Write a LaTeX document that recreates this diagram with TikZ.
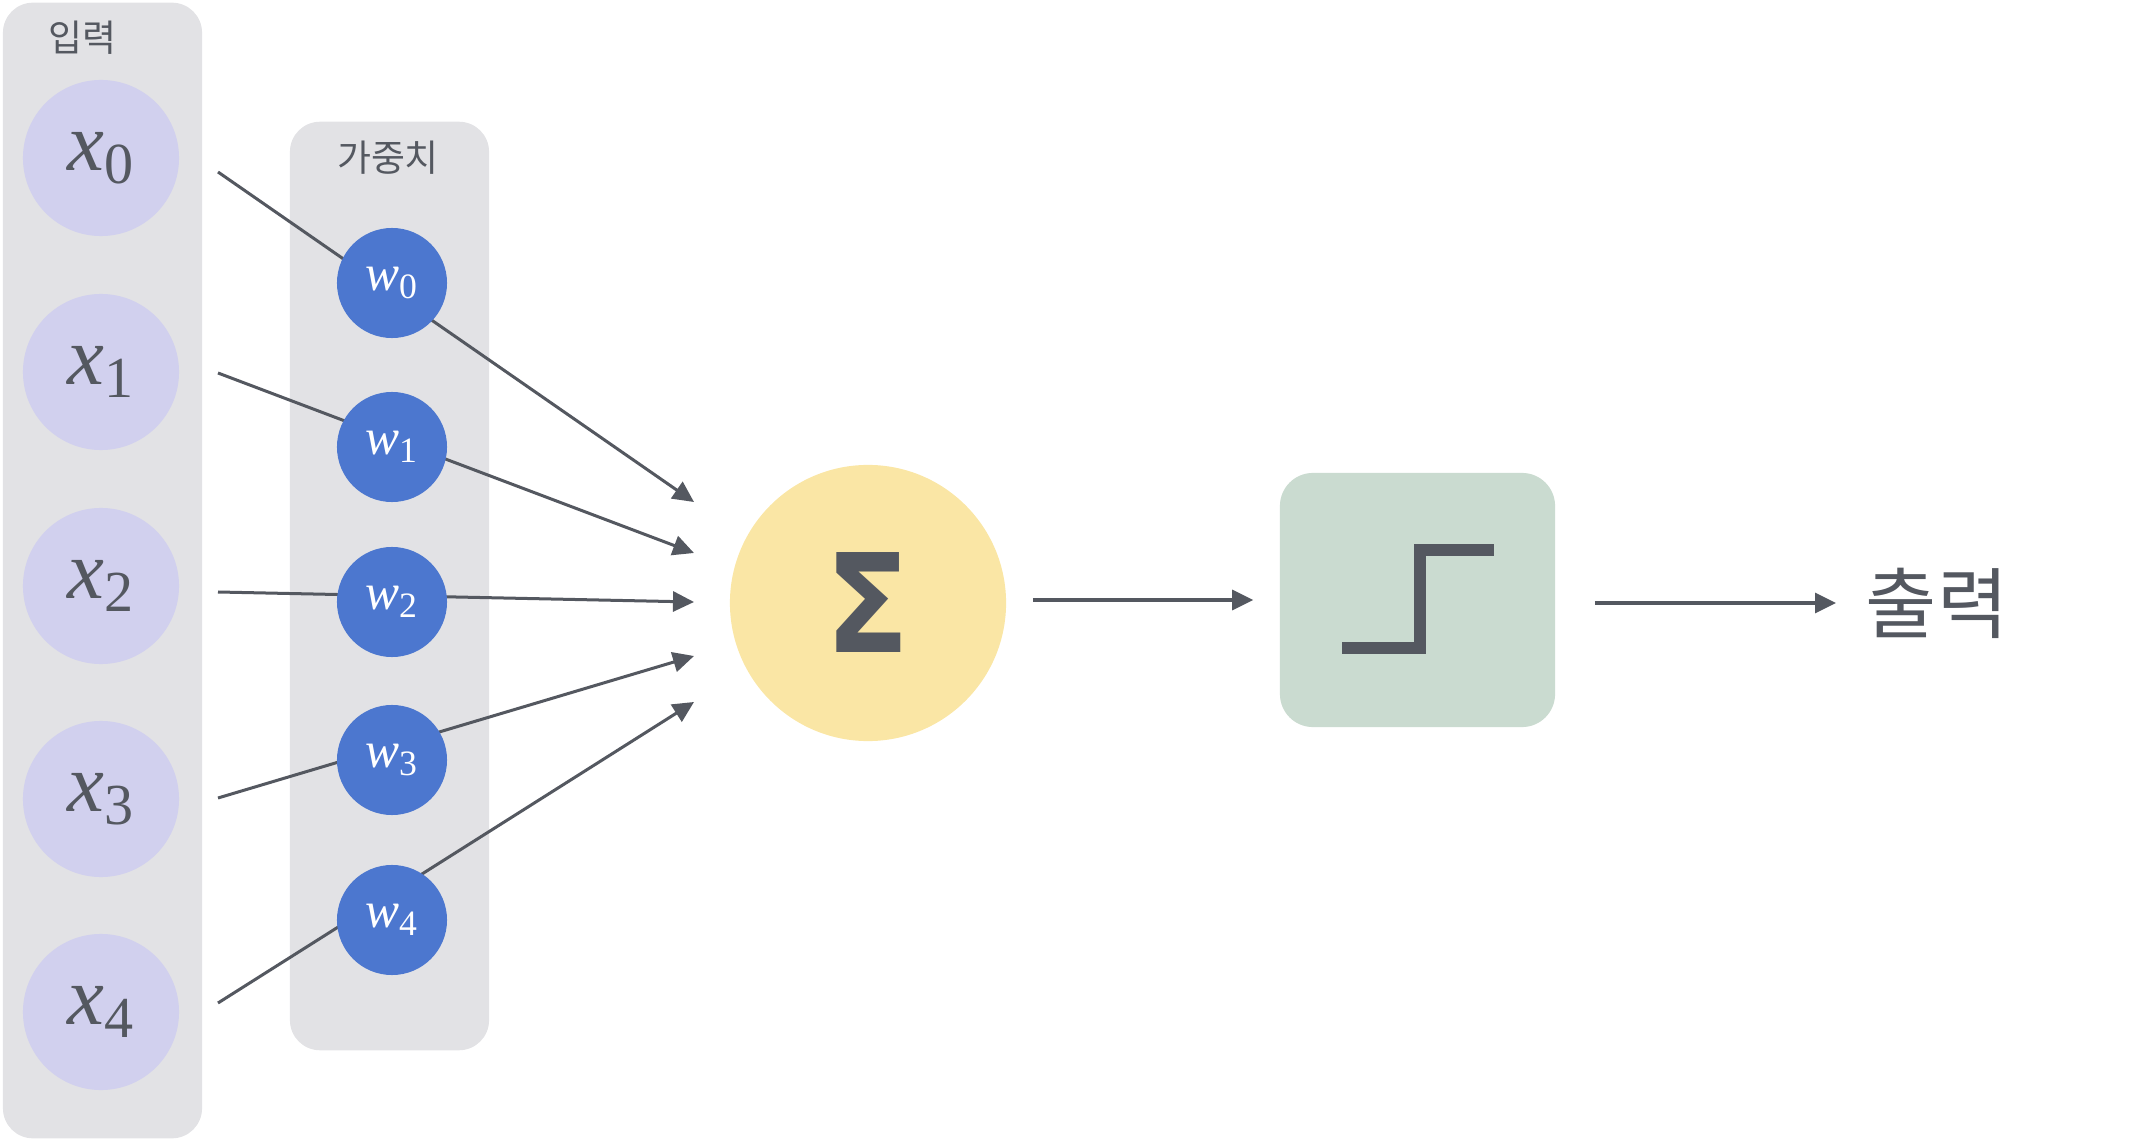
\documentclass[tikz,border=0pt]{standalone}
\usepackage{amstext}
\usepackage{fontspec}
\usepackage{graphicx}
\setmainfont{Liberation Serif}
\newfontfamily\krfont{Noto Sans CJK KR}
\newfontfamily\sigfont{DejaVu Sans}
\usetikzlibrary{arrows.meta}
\definecolor{panelgray}{HTML}{E2E2E5}
\definecolor{inlav}{HTML}{D1D0EE}
\definecolor{wblue}{HTML}{4C77CF}
\definecolor{sumyellow}{HTML}{FAE6A5}
\definecolor{actgreen}{HTML}{CADBD0}
\definecolor{inkgray}{HTML}{545860}
\newcommand{\vsym}[2]{$\textit{#1}_{\textrm{#2}}$}
\begin{document}
\begin{tikzpicture}[x=0.01cm, y=-0.01cm, >={Triangle[length=0.21cm,width=0.2cm]},
          panel/.style={fill=panelgray, rounded corners=0.3cm, minimum width=1.99cm},
          lbl/.style={text=inkgray, font=\krfont\fontsize{10.5}{12}\selectfont},
          innode/.style={circle, fill=inlav, minimum size=1.56cm, text=inkgray, font=\fontsize{23.6}{28}\selectfont},
          wnode/.style={circle, fill=wblue, minimum size=1.10cm, text=white, font=\fontsize{14.5}{17}\selectfont},
          conn/.style={draw=inkgray, line width=0.03cm}]
        \useasboundingbox (0,0) rectangle (2142,1140);
        \node[panel, minimum height=11.35cm] (inbox) at (102.5,570.5) {};
        \node[panel, minimum height=9.28cm] (wbox) at (389.5,586) {};
        \node[lbl] (inlbl) at (82,38) {입력};
        \node[lbl] (wlbl) at (388,158) {가중치};
        \node[innode] (x0) at (101,158) {\vsym{x}{0}};
        \node[innode] (x1) at (101,372) {\vsym{x}{1}};
        \node[innode] (x2) at (101,586) {\vsym{x}{2}};
        \node[innode] (x3) at (101,799) {\vsym{x}{3}};
        \node[innode] (x4) at (101,1012) {\vsym{x}{4}};
        % line ends beside the inputs and in front of the sum
        \coordinate (s0) at (218,172);
        \coordinate (s1) at (218,373);
        \coordinate (s2) at (218,592);
        \coordinate (s3) at (218,798);
        \coordinate (s4) at (218,1003);
        \coordinate (t0) at (694,502);
        \coordinate (t1) at (694,553);
        \coordinate (t2) at (694,602);
        \coordinate (t3) at (694,656);
        \coordinate (t4) at (694,702);
        \draw[conn, ->] (s0) -- (t0);
        \draw[conn, ->] (s1) -- (t1);
        \draw[conn, ->] (s2) -- (t2);
        \draw[conn, ->] (s3) -- (t3);
        \draw[conn, ->] (s4) -- (t4);
        \node[wnode] (w0) at (392,283) {\vsym{w}{0}};
        \node[wnode] (w1) at (392,447) {\vsym{w}{1}};
        \node[wnode] (w2) at (392,602) {\vsym{w}{2}};
        \node[wnode] (w3) at (392,760) {\vsym{w}{3}};
        \node[wnode] (w4) at (392,920) {\vsym{w}{4}};
        \node[circle, fill=sumyellow, minimum size=2.76cm, text=inkgray,
              font=\sigfont\bfseries\fontsize{39}{42}\selectfont] (sum) at (868,603) {\scalebox{0.9}[1]{Σ}};
        \node[fill=actgreen, rounded corners=0.33cm, minimum width=2.75cm, minimum height=2.54cm] (act) at (1417.5,600) {};
        \draw[inkgray, line width=0.12cm] (1342,648) -- (1420,648) -- (1420,550) -- (1494,550);
        \node[text=inkgray, inner sep=0pt, font=\krfont\fontsize{22}{26}\selectfont] (out) at (1937,603) {출력};
        \draw[conn, ->, shorten <=0.26cm, shorten >=0.26cm] (sum.east |- act.west) -- (act.west);
        \draw[conn, ->, shorten <=0.39cm, shorten >=0.29cm] (act.east |- out.west) -- (out.west);
      \end{tikzpicture}
\end{document}
